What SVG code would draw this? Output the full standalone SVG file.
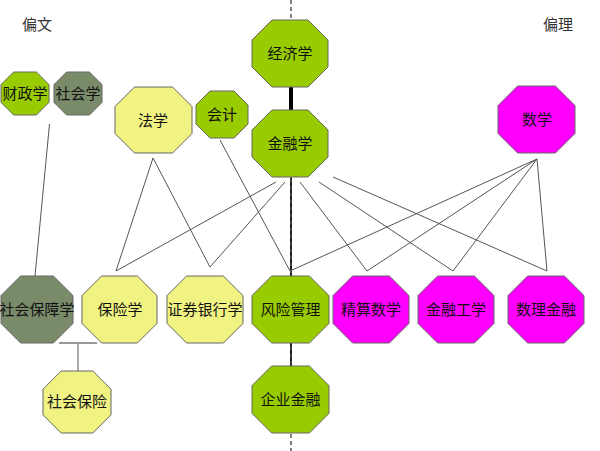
<svg xmlns="http://www.w3.org/2000/svg" width="600" height="451" viewBox="0 0 600 451">
<style>
.n{stroke:#666;stroke-width:1}
.g{fill:#99CC00}.y{fill:#F0F282}.m{fill:#FF00FF}.o{fill:#7A8B6A}
text{font-family:"Noto Sans CJK SC","Noto Sans",sans-serif;font-size:15px;fill:#111;text-anchor:middle}
.lab{fill:#333}
.c line{stroke:#555;stroke-width:1}
</style>
<rect width="600" height="451" fill="#fff"/>
<line x1="291" y1="0" x2="291" y2="451" stroke="#000" stroke-width="1" stroke-dasharray="4,3"/>
<g class="c" id="connectors">
<line x1="49.5" y1="124" x2="35" y2="276"/>
<line x1="153" y1="158" x2="116" y2="271"/>
<line x1="153" y1="158" x2="210" y2="267"/>
<line x1="220" y1="140" x2="290" y2="271"/>
<line x1="276" y1="182" x2="116" y2="271"/>
<line x1="285" y1="182" x2="210" y2="267"/>
<line x1="291" y1="178" x2="291" y2="276" style="stroke:#000;stroke-width:1.5"/>
<line x1="300" y1="182" x2="367" y2="271"/>
<line x1="319" y1="182" x2="453" y2="271"/>
<line x1="333" y1="177" x2="547" y2="271"/>
<line x1="537" y1="159" x2="290" y2="271"/>
<line x1="537" y1="159" x2="367" y2="271"/>
<line x1="537" y1="159" x2="453" y2="271"/>
<line x1="537" y1="159" x2="547" y2="271"/>
<line x1="291" y1="343" x2="291" y2="366" style="stroke:#000;stroke-width:1.5"/>
<line x1="291" y1="87" x2="291" y2="110" style="stroke:#000;stroke-width:4"/>
<line x1="59" y1="343" x2="97" y2="343" style="stroke:#999;stroke-width:2"/>
<line x1="78" y1="344" x2="78" y2="371"/>
</g>
<text class="lab" x="37" y="30">偏文</text>
<text class="lab" x="558" y="30">偏理</text>
<g id="jingjixue"><polygon class="n g" points="272,20 308,20 328,40 328,67 308,87 272,87 252,67 252,40"/><text x="290" y="59">经济学</text></g>
<g id="jinrongxue"><polygon class="n g" points="272,110 308,110 328,130 328,157 308,177 272,177 252,157 252,130"/><text x="290" y="149">金融学</text></g>
<g id="kuaiji"><polygon class="n g" points="210,91 234,91 248,105 248,124 234,138 210,138 196,124 196,105"/><text x="222" y="120">会计</text></g>
<g id="faxue"><polygon class="n y" points="134.5,87 172.5,87 192,106.5 192,133.5 172.5,153 134.5,153 115,133.5 115,106.5"/><text x="153" y="126">法学</text></g>
<g id="caizhengxue"><polygon class="n g" points="13.6,72 36.4,72 49,84.6 49,102.4 36.4,115 13.6,115 1,102.4 1,84.6"/><text x="25" y="99">财政学</text></g>
<g id="shehuixue"><polygon class="n o" points="66.6,72 89.4,72 102,84.6 102,102.4 89.4,115 66.6,115 54,102.4 54,84.6"/><text x="78" y="99">社会学</text></g>
<g id="shuxue"><polygon class="n m" points="517.6,86 555.4,86 575,105.6 575,133.4 555.4,153 517.6,153 498,133.4 498,105.6"/><text x="537" y="125">数学</text></g>
<g id="shehuibaozhangxue"><polygon class="n o" points="20.6,276 53.4,276 73,295.6 73,323.4 53.4,343 20.6,343 1,323.4 1,295.6"/><text x="37" y="315">社会保障学</text></g>
<g id="baoxianxue"><polygon class="n y" points="101.6,276 137.4,276 157,295.6 157,323.4 137.4,343 101.6,343 82,323.4 82,295.6"/><text x="120" y="315">保险学</text></g>
<g id="zhengquanyinhangxue"><polygon class="n y" points="186.6,276 223.4,276 243,295.6 243,323.4 223.4,343 186.6,343 167,323.4 167,295.6"/><text x="205" y="315">证券银行学</text></g>
<g id="fengxianguanli"><polygon class="n g" points="271.6,276 309.4,276 329,295.6 329,323.4 309.4,343 271.6,343 252,323.4 252,295.6"/><text x="290.5" y="315">风险管理</text></g>
<g id="jingsuanshuxue"><polygon class="n m" points="352.6,276 389.4,276 409,295.6 409,323.4 389.4,343 352.6,343 333,323.4 333,295.6"/><text x="371" y="315">精算数学</text></g>
<g id="jinronggongxue"><polygon class="n m" points="437.6,276 474.4,276 494,295.6 494,323.4 474.4,343 437.6,343 418,323.4 418,295.6"/><text x="456" y="315">金融工学</text></g>
<g id="shulijinrong"><polygon class="n m" points="527.6,276 564.4,276 584,295.6 584,323.4 564.4,343 527.6,343 508,323.4 508,295.6"/><text x="546" y="315">数理金融</text></g>
<g id="shehuibaoxian"><polygon class="n y" points="61.2,371 92.8,371 111,389.2 111,414.8 92.8,433 61.2,433 43,414.8 43,389.2"/><text x="77" y="407">社会保险</text></g>
<g id="qiyejinrong"><polygon class="n g" points="271.6,366 309.4,366 329,385.6 329,413.4 309.4,433 271.6,433 252,413.4 252,385.6"/><text x="290.5" y="405">企业金融</text></g>
</svg>
